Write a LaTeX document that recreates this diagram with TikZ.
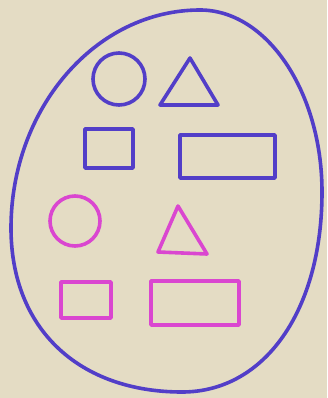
\documentclass[tikz,border=0pt]{standalone}
\usetikzlibrary{calc}
\definecolor{paper}{RGB}{228,220,196}
\definecolor{penblue}{RGB}{82,62,200}
\definecolor{penpink}{RGB}{218,70,208}

\begin{document}
\begin{tikzpicture}[x=1pt,y=-1pt,
  pen/.style={line width=3.6pt,line join=round,line cap=round},
  blueline/.style={pen,draw=penblue},
  pinkline/.style={pen,draw=penpink}]
  % Paper background and frame
  \fill[paper] (0,0) rectangle (327,398);
  \useasboundingbox (0,0) rectangle (327,398);

  % Outer egg
  \coordinate (eggtop) at (200,10);
  \coordinate (eggright) at (322,192);
  \coordinate (eggbottom) at (182,392);
  \coordinate (eggleft) at (11,228);
  \draw[blueline] (eggtop)
    .. controls (267,10) and (322,92) .. (eggright)
    .. controls (322,310) and (265,392) .. (eggbottom)
    .. controls (80,392) and (11,330) .. (eggleft)
    .. controls (11,108) and (96,10) .. (eggtop) -- cycle;

  % Blue shapes
  \draw[blueline] (119,79) circle (26);
  \draw[blueline] (190,58) -- (218,105) -- (160,105) -- cycle;
  \draw[blueline] (85,129) rectangle (133,168);
  \draw[blueline] (180,135) rectangle (275,178);

  % Pink shapes
  \draw[pinkline] (75,221) circle (25);
  \draw[pinkline] (178,206) -- (207,254) -- (158,252) -- cycle;
  \draw[pinkline] (61,282) rectangle (111,318);
  \draw[pinkline] (151,281) rectangle (239,325);
\end{tikzpicture}
\end{document}
